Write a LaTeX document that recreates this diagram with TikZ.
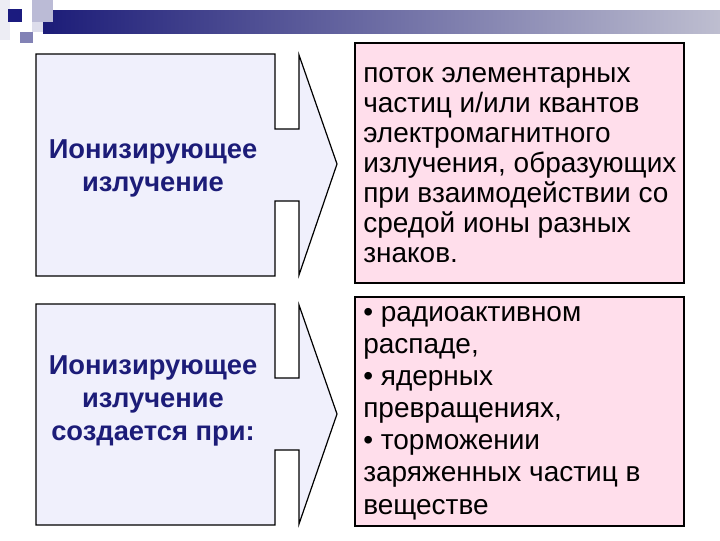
\documentclass[tikz,border=0pt]{standalone}
\usepackage{fontspec}
\setmainfont{Liberation Sans}
\usetikzlibrary{positioning}

\definecolor{navy}{RGB}{28,28,120}
\definecolor{barend}{RGB}{190,190,208}
\definecolor{lavfill}{RGB}{240,240,252}
\definecolor{pinkfill}{RGB}{255,222,235}

\tikzset{
    callout/.style={draw=black, fill=lavfill, line width=0.9pt, line join=miter},
    infobox/.style={draw=black, fill=pinkfill, line width=0.9pt},
    termtext/.style={text=navy, font=\bfseries\fontsize{20.5}{24.8}\selectfont, align=center, inner sep=0},
    infotext/.style={text=black, font=\fontsize{21}{22.5}\selectfont, align=left, inner sep=0, anchor=base west}
}

\begin{document}
\begin{tikzpicture}[x=0.75pt, y=-0.75pt]
    \useasboundingbox (0,0) rectangle (720,540);

    % Title bar decoration
    \shade[left color=navy, right color=barend] (43,10) rectangle (720,33);
    \fill[white] (53,0) rectangle (720,10);
    \fill[navy!8] (0,0) rectangle (10,40);
    \fill[navy!30] (32,0) rectangle (53,22);
    \fill[navy!15] (32,22) rectangle (43,32);
    \fill[navy!55] (20,32) rectangle (33,43);
    \fill[navy!95!blue] (8,9) rectangle (22,22);

    % Upper callout: box with arrow to the right
    \draw[callout] (36,54) -- (275,54) -- (275,129) -- (299,129) -- (299,55)
        -- (337,164) -- (299,275) -- (299,201) -- (275,201) -- (275,276)
        -- (36,276) -- cycle;
    \node[termtext] (term1) at (153,168) {Ионизирующее\\излучение};

    % Lower callout
    \draw[callout] (36,304) -- (275,304) -- (275,378) -- (299,378) -- (299,305)
        -- (337,414) -- (299,524) -- (299,450) -- (275,450) -- (275,525)
        -- (36,525) -- cycle;
    \node[termtext] (term2) at (153,401) {Ионизирующее\\излучение\\ создается при:};

    % Right boxes with explanations (base = last line)
    \draw[infobox] (355,43) rectangle (684,283);
    \node[infotext] (def1) at (363,262) {поток элементарных\\частиц и/или квантов\\электромагнитного\\излучения, образующих\\при взаимодействии со\\средой ионы разных\\знаков.};

    \draw[infobox] (355,297) rectangle (684,526);
    \node[infotext, font=\fontsize{21}{24.1}\selectfont] (def2) at (363,514) {• радиоактивном\\распаде,\\• ядерных\\превращениях,\\• торможении\\заряженных частиц в\\веществе};
\end{tikzpicture}
\end{document}
